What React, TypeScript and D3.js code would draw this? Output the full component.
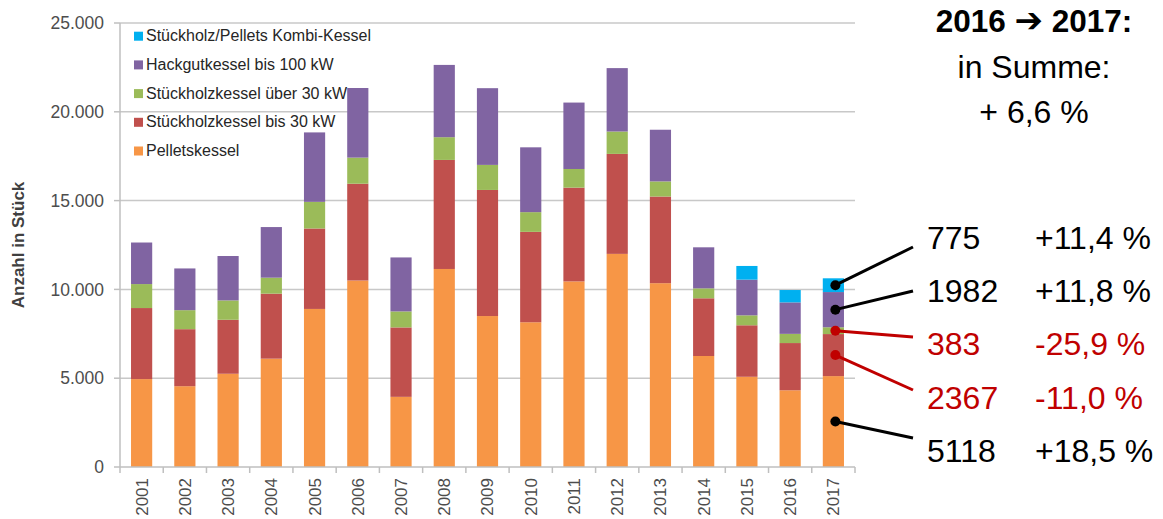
import React from "react";
import * as d3 from "d3";

const years = ["2001","2002","2003","2004","2005","2006","2007","2008","2009","2010","2011","2012","2013","2014","2015","2016","2017"];
const pellets = [4950,4550,5250,6100,8900,10500,3950,11150,8500,8150,10450,12000,10350,6250,5080,4319,5118];
const stueckBis30 = [4000,3210,3040,3660,4530,5450,3910,6140,7100,5090,5280,5630,4880,3250,2900,2660,2367];
const stueckUeber30 = [1350,1070,1090,900,1500,1470,900,1280,1410,1110,1050,1260,850,560,560,517,383];
const hackgut = [2340,2350,2500,2850,3910,3920,3040,4070,4320,3650,3740,3570,2910,2310,2010,1773,1982];
const kombi = [0,0,0,0,0,0,0,0,0,0,0,0,0,0,770,696,775];

const seriesNames = ["Pelletskessel","Stückholzkessel bis 30 kW","Stückholzkessel über 30 kW","Hackgutkessel bis 100 kW","Stückholz/Pellets Kombi-Kessel"];
const seriesColors = ["#F79646","#C0504D","#9BBB59","#8064A2","#00B0F0"];
const yTicks = [0,5000,10000,15000,20000,25000];

const annoValues = ["775","1982","383","2367","5118"];
const annoPct = ["+11,4 %","+11,8 %","-25,9 %","-11,0 %","+18,5 %"];
const annoSeries = [4,3,2,1,0];
const annoRed = [false,false,true,true,false];
const annoLineEndY = [247,291,337,390,438];

const FONT = "'Liberation Sans', Arial, Helvetica, sans-serif";

export default function App() {
  const W = 1163, H = 519;
  const x0 = 120, x1 = 855, yTop = 23, yBot = 467;
  const x = d3.scaleBand<string>().domain(years).range([x0, x1]).paddingInner(0.51).paddingOuter(0.255);
  const y = d3.scaleLinear().domain([0, 25000]).range([yBot, yTop]);

  const table = years.map((yr, i) => ({
    year: yr,
    s0: pellets[i], s1: stueckBis30[i], s2: stueckUeber30[i], s3: hackgut[i], s4: kombi[i],
  }));
  const stack = d3.stack<any>().keys(["s0","s1","s2","s3","s4"])(table);

  const step = x.step();
  const boundaries = years.map((_, i) => x0 + i * step).concat([x1]);
  const last = years.length - 1;
  const cx2017 = (x(years[last]) as number) + x.bandwidth() / 2 + 2;
  const red = "#C00000";

  return (
    <svg width={W} height={H} style={{ position: "absolute", left: 0, top: 0, background: "#fff" }} fontFamily={FONT}>
      {yTicks.slice(1).map(t => (
        <line key={t} x1={x0} x2={x1} y1={y(t)} y2={y(t)} stroke="#C8C8C8" strokeWidth={1.5} />
      ))}
      <line x1={x0} x2={x0} y1={yTop} y2={yBot} stroke="#BFBFBF" strokeWidth={1.5} />
      {yTicks.map(t => (
        <g key={t}>
          <line x1={x0 - 6} x2={x0} y1={y(t)} y2={y(t)} stroke="#BFBFBF" strokeWidth={1.5} />
          <text x={104} y={y(t)} dy="0.35em" textAnchor="end" fontSize={17.5} fill="#4D4D4D">
            {d3.format(",")(t).replace(/,/g, ".")}
          </text>
        </g>
      ))}
      <text transform={`translate(24,245) rotate(-90)`} textAnchor="middle" fontSize={17} fontWeight="bold" fill="#404040">Anzahl in Stück</text>
      {stack.map((s, si) => (
        <g key={si} fill={seriesColors[si]}>
          {s.map((d, i) => d[1] - d[0] > 0 ? (
            <rect key={i} x={x(years[i])} width={x.bandwidth()} y={y(d[1])} height={y(d[0]) - y(d[1])} />
          ) : null)}
        </g>
      ))}
      <line x1={x0} x2={x1} y1={yBot} y2={yBot} stroke="#BFBFBF" strokeWidth={1.5} />
      {boundaries.map((b, i) => (
        <line key={i} x1={b} x2={b} y1={yBot} y2={yBot + 6} stroke="#BFBFBF" strokeWidth={1.5} />
      ))}
      {years.map(yr => (
        <text key={yr} transform={`translate(${(x(yr) as number) + x.bandwidth() / 2},478) rotate(-90)`} textAnchor="end" dy="0.35em" fontSize={17} fill="#4D4D4D">{yr}</text>
      ))}
      {[4,3,2,1,0].map((si, k) => (
        <g key={si} transform={`translate(134,${35.7 + k * 28.7})`}>
          <rect x={0} y={-4} width={9} height={9} fill={seriesColors[si]} />
          <text x={12} y={0} dy="0.35em" fontSize={16} fill="#262626">{seriesNames[si]}</text>
        </g>
      ))}
      <text x={1034} y={32} textAnchor="middle" fontSize={31.5} fontWeight="bold" fill="#000">
        2016 <tspan fontFamily="'DejaVu Sans', sans-serif" fontSize={34}>➔</tspan> 2017:
      </text>
      <text x={1034} y={78} textAnchor="middle" fontSize={32} fill="#000">in Summe:</text>
      <text x={1034} y={123} textAnchor="middle" fontSize={32} fill="#000">+ 6,6 %</text>
      {annoValues.map((v, k) => {
        const si = annoSeries[k];
        const d = stack[si][last];
        const dotY = y((d[0] + d[1]) / 2);
        const col = annoRed[k] ? red : "#000";
        const baseY = 249 + k * 53.2;
        return (
          <g key={k}>
            <line x1={cx2017} y1={dotY} x2={913} y2={annoLineEndY[k]} stroke={col} strokeWidth={3} />
            <circle cx={cx2017} cy={dotY} r={5} fill={col} />
            <text x={927} y={baseY} fontSize={32} fill={col}>{v}</text>
            <text x={1035} y={baseY} fontSize={32} fill={col}>{annoPct[k]}</text>
          </g>
        );
      })}
    </svg>
  );
}
